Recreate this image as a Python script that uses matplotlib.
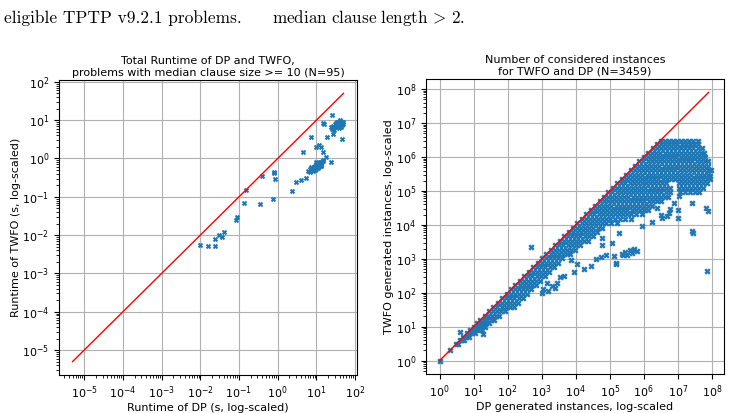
import numpy as np
import matplotlib
matplotlib.use("Agg")
import matplotlib.pyplot as plt

# left plot: runtimes in seconds, stored as log10 exponents
dp_runtime_exp = [
    -2.00, -1.81, -1.61, -1.63, -1.51, -1.44, -1.40, -1.07, -1.04, -0.88,
    -0.81, -0.45, -0.41, -0.11, -0.10, -0.09, -0.06, 0.37, 0.485, 0.615,
    0.73, 0.66, 0.85, 0.98, 1.065, 1.11, 1.18, 1.24, 1.265, 1.16,
    1.19, 1.38, 1.41, 1.44, 1.66,
    # cluster around 10^1.5
    1.61, 1.65, 1.57, 1.48, 1.44, 1.52, 1.41, 1.45, 1.59, 1.68,
    1.51, 1.39, 1.54, 1.63, 1.70, 1.55, 1.60, 1.47, 1.65, 1.50,
    1.58, 1.43, 1.62, 1.53, 1.67,
    # cluster around 10^1
    0.79, 0.83, 0.87, 0.92, 0.96, 1.00, 1.05, 1.09, 1.13, 1.18,
    0.83, 0.90, 0.99, 1.05, 1.11, 0.96, 1.02, 1.07, 0.87, 0.94,
    1.13, 1.16, 1.09, 1.00, 0.93, 1.03, 1.08, 0.98, 0.88, 1.12,
]
twfo_runtime_exp = [
    -2.25, -2.29, -2.29, -2.09, -2.00, -2.06, -1.91, -1.61, -1.53, -1.15,
    -0.81, -1.18, -0.46, -1.06, -0.35, -0.39, -0.53, -0.86, -0.605, -0.55,
    -0.52, 0.16, 0.56, 0.31, 0.35, 0.29, 0.16, 0.03, 0.56, 0.92,
    0.89, -0.09, 1.13, 0.63, 0.50,
    0.98, 0.95, 0.94, 0.89, 0.83, 0.85, 0.78, 0.75, 0.87, 0.89,
    0.81, 0.81, 0.92, 0.83, 0.94, 0.90, 0.95, 0.82, 0.88, 0.93,
    0.80, 0.86, 1.00, 0.96, 0.92,
    -0.32, -0.28, -0.23, -0.26, -0.19, -0.21, -0.15, -0.10, -0.09, -0.06,
    -0.35, -0.32, -0.28, -0.23, -0.17, -0.29, -0.17, -0.12, -0.29, -0.22,
    -0.12, -0.03, -0.19, -0.10, -0.30, -0.25, -0.18, -0.14, -0.26, -0.20,
]

# right plot: generated instances (log10), main cloud read row by row
twfo_row_exp = [
    0.00, 0.30, 0.48, 0.60, 0.70, 0.80, 0.90, 1.00, 1.10, 1.20,
    1.32, 1.45, 1.58, 1.71, 1.84, 1.97, 2.10, 2.23, 2.36, 2.49,
    2.62, 2.75, 2.88, 3.01, 3.14, 3.27, 3.40, 3.53, 3.66, 3.79,
    3.92, 4.05, 4.18, 4.31, 4.44, 4.57, 4.70, 4.83, 4.96, 5.09,
    5.22, 5.35, 5.48, 5.61, 5.74, 5.87, 6.00, 6.13, 6.26, 6.39,
    6.48,
]
dp_row_exp = [
    [0.00],
    [0.30],
    [0.48, 0.54],
    [0.60, 0.66, 0.72],
    [0.70, 0.77, 0.85],
    [0.80, 0.88, 0.96, 1.04],
    [0.90, 0.98, 1.06, 1.14, 1.25],
    [1.00, 1.08, 1.16, 1.24, 1.34],
    [1.10, 1.19, 1.28, 1.37, 1.46],
    [1.20, 1.30, 1.40, 1.50, 1.60],
    [1.32, 1.43, 1.54, 1.65, 1.76],
    [1.45, 1.57, 1.69, 1.81, 1.93],
    [1.58, 1.70, 1.82, 1.94, 2.06, 2.18],
    [1.71, 1.83, 1.95, 2.07, 2.19, 2.31],
    [1.84, 1.96, 2.08, 2.20, 2.32, 2.44],
    [1.97, 2.09, 2.21, 2.33, 2.45, 2.57],
    [2.10, 2.22, 2.34, 2.46, 2.58, 2.70],
    [2.23, 2.35, 2.47, 2.59, 2.71, 2.83],
    [2.36, 2.48, 2.60, 2.72, 2.84, 2.96],
    [2.49, 2.61, 2.73, 2.85, 2.97, 3.09],
    [2.62, 2.74, 2.86, 2.98, 3.10, 3.22],
    [2.75, 2.87, 2.99, 3.11, 3.23, 3.35],
    [2.88, 3.00, 3.12, 3.24, 3.36, 3.48],
    [3.01, 3.13, 3.25, 3.37, 3.49, 3.61],
    [3.14, 3.26, 3.38, 3.50, 3.62, 3.74, 3.84],
    [3.27, 3.39, 3.51, 3.63, 3.75, 3.87, 3.98],
    [3.40, 3.52, 3.64, 3.76, 3.88, 4.00, 4.14],
    [3.53, 3.65, 3.77, 3.89, 4.01, 4.13, 4.25, 4.35],
    [3.66, 3.78, 3.90, 4.02, 4.14, 4.26, 4.38, 4.50],
    [3.79, 3.91, 4.03, 4.15, 4.27, 4.39, 4.51, 4.63],
    [3.92, 4.04, 4.16, 4.28, 4.40, 4.52, 4.64, 4.76],
    [4.05, 4.17, 4.29, 4.41, 4.53, 4.65, 4.77, 4.89, 5.05, 5.20],
    [4.18, 4.30, 4.42, 4.54, 4.66, 4.78, 4.90, 5.02, 5.14, 5.30, 5.45, 5.62],
    [4.31, 4.43, 4.55, 4.67, 4.79, 4.91, 5.03, 5.15, 5.27, 5.39, 5.51, 5.63,
     5.78, 5.95],
    [4.44, 4.56, 4.68, 4.80, 4.92, 5.04, 5.16, 5.28, 5.40, 5.52, 5.64, 5.76,
     5.88, 6.00, 6.12],
    [4.57, 4.69, 4.81, 4.93, 5.05, 5.17, 5.29, 5.41, 5.53, 5.65, 5.77, 5.89,
     6.01, 6.13, 6.25],
    [4.70, 4.82, 4.94, 5.06, 5.18, 5.30, 5.42, 5.54, 5.66, 5.78, 5.90, 6.02,
     6.14, 6.26, 6.38, 6.50],
    [4.83, 4.95, 5.07, 5.19, 5.31, 5.43, 5.55, 5.67, 5.79, 5.91, 6.03, 6.15,
     6.27, 6.39, 6.51, 6.63, 6.72],
    [4.96, 5.08, 5.20, 5.32, 5.44, 5.56, 5.68, 5.80, 5.92, 6.04, 6.16, 6.28,
     6.40, 6.52, 6.64, 6.76, 7.05, 7.20, 7.35, 7.50, 7.62],
    [5.09, 5.21, 5.33, 5.45, 5.57, 5.69, 5.81, 5.93, 6.05, 6.17, 6.29, 6.41,
     6.53, 6.65, 6.77, 7.03, 7.15, 7.27, 7.39, 7.51, 7.63, 7.75],
    [5.22, 5.34, 5.46, 5.58, 5.70, 5.82, 5.94, 6.06, 6.18, 6.30, 6.42, 6.54,
     6.66, 7.02, 7.14, 7.26, 7.38, 7.50, 7.62, 7.74, 7.86],
    [5.35, 5.47, 5.59, 5.71, 5.83, 5.95, 6.07, 6.19, 6.31, 6.43, 6.55, 6.67,
     6.79, 6.91, 7.03, 7.15, 7.27, 7.39, 7.51, 7.63, 7.75, 7.87, 7.95],
    [5.48, 5.60, 5.72, 5.84, 5.96, 6.08, 6.20, 6.32, 6.44, 6.56, 6.68, 6.80,
     6.92, 7.04, 7.16, 7.28, 7.40, 7.52, 7.64, 7.76, 7.88],
    [5.61, 5.73, 5.85, 5.97, 6.09, 6.21, 6.33, 6.45, 6.57, 6.69, 6.81, 6.93,
     7.05, 7.17, 7.29, 7.41, 7.53, 7.65, 7.77, 7.89, 7.96],
    [5.74, 5.86, 5.98, 6.10, 6.22, 6.34, 6.46, 6.58, 6.70, 6.82, 6.94, 7.06,
     7.18, 7.30, 7.42, 7.54, 7.66, 7.78, 7.90],
    [5.87, 5.99, 6.11, 6.23, 6.35, 6.47, 6.59, 6.71, 6.83, 6.95, 7.07, 7.19,
     7.31, 7.43, 7.55, 7.67, 7.79, 7.90],
    [6.00, 6.12, 6.24, 6.36, 6.48, 6.60, 6.72, 6.84, 6.96, 7.08, 7.20, 7.32,
     7.44, 7.56, 7.68, 7.80],
    [6.13, 6.25, 6.37, 6.49, 6.61, 6.73, 6.85, 6.97, 7.09, 7.21, 7.33, 7.45,
     7.57, 7.69, 7.78],
    [6.26, 6.38, 6.50, 6.62, 6.74, 6.86, 6.98, 7.10, 7.22, 7.34, 7.46, 7.58,
     7.70],
    [6.39, 6.51, 6.63, 6.75, 6.87, 6.99, 7.11, 7.23, 7.35, 7.47, 7.59],
    [6.50, 6.62, 6.74, 6.86, 6.98, 7.10, 7.22, 7.34, 7.46, 7.58],
]

# scattered points outside the main cloud
dp_outlier_exp = [
    0.60, 1.27, 2.68,
    3.00, 3.05, 3.15, 3.20, 3.30, 3.45, 3.55, 3.65, 3.40,
    3.85, 3.95, 4.05, 4.25, 4.45, 4.60, 4.75, 4.90, 4.78, 4.78,
    5.07, 5.12, 5.17, 5.19, 5.27, 5.46, 5.52, 5.58, 5.64, 5.70, 5.80, 5.35, 5.40,
    5.95, 6.24, 6.50, 6.54, 6.68, 6.73, 6.78, 7.00, 7.00, 7.02, 7.41, 7.43,
    7.45, 7.82, 7.88, 7.85, 7.95, 7.92, 6.40, 6.90,
]
twfo_outlier_exp = [
    0.85, 0.78, 3.36,
    2.00, 2.10, 2.30, 2.05, 2.20, 2.30, 2.45, 2.50, 2.15,
    2.95, 2.60, 2.85, 2.70, 2.80, 3.00, 3.05, 3.10, 3.40, 3.60,
    3.48, 3.09, 2.89, 2.86, 3.77, 3.20, 3.12, 3.25, 3.18, 3.28, 3.22, 3.15, 3.10,
    3.97, 4.07, 4.30, 4.21, 4.26, 4.36, 4.46, 4.21, 4.45, 4.85, 4.65, 3.82,
    3.75, 4.50, 4.41, 2.65, 5.45, 5.62, 4.50, 4.65,
]

left_title = "Total Runtime of DP and TWFO,\nproblems with median clause size >= 10 (N=95)"
right_title = "Number of considered instances\nfor TWFO and DP (N=3459)"


def main():
    plt.rcParams["font.size"] = 8
    plt.rcParams["mathtext.fontset"] = "cm"

    fig = plt.figure(figsize=(7.31, 4.13), dpi=100)

    # caption fragments of the surrounding paper page
    fig.text(0.006, 0.945, "eligible TPTP v9.2.1 problems.",
             family="cmr10", fontsize=12.5, va="baseline")
    fig.text(0.372, 0.945, r"$\mathrm{median\ clause\ length}\,>\,2.$",
             fontsize=12.3, va="baseline")

    blue = "#1f77b4"

    # left: runtimes
    ax1 = fig.add_axes([0.0807, 0.092, 0.4077, 0.7143])
    x1 = np.power(10.0, dp_runtime_exp)
    y1 = np.power(10.0, twfo_runtime_exp)
    ax1.scatter(x1, y1, marker="x", s=8, linewidths=1.5, color=blue, zorder=3)
    ax1.plot([5e-6, 50], [5e-6, 50], color="red", lw=1, zorder=4)
    ax1.set_xscale("log")
    ax1.set_yscale("log")
    ax1.set_xticks([10.0 ** k for k in range(-5, 3)])
    ax1.set_yticks([10.0 ** k for k in range(-5, 3)])
    ax1.grid(True)
    ax1.set_axisbelow(True)
    ax1.set_title(left_title, fontsize=8, pad=3)
    ax1.set_xlabel("Runtime of DP (s, log-scaled)", labelpad=1)
    ax1.set_ylabel("Runtime of TWFO (s, log-scaled)", labelpad=1)

    # right: generated instances
    dp_exp = [x for row in dp_row_exp for x in row] + dp_outlier_exp
    twfo_exp = [y for y, row in zip(twfo_row_exp, dp_row_exp) for _ in row] + twfo_outlier_exp
    x2 = np.power(10.0, dp_exp)
    y2 = np.power(10.0, twfo_exp)
    ax2 = fig.add_axes([0.5828, 0.0944, 0.4077, 0.7143])
    ax2.scatter(x2, y2, marker="x", s=11, linewidths=1.7, color=blue, zorder=3)
    ax2.plot([1, 8e7], [1, 8e7], color="red", lw=1, zorder=4)
    ax2.set_xscale("log")
    ax2.set_yscale("log")
    ax2.set_xticks([10.0 ** k for k in range(0, 9)])
    ax2.set_yticks([10.0 ** k for k in range(0, 9)])
    ax2.grid(True)
    ax2.set_axisbelow(True)
    ax2.set_title(right_title, fontsize=8, pad=3)
    ax2.set_xlabel("DP generated instances, log-scaled", labelpad=1)
    ax2.set_ylabel("TWFO generated instances, log-scaled", labelpad=1)

    fig.savefig("out.png", dpi=100)
    plt.close(fig)


if __name__ == "__main__":
    main()
